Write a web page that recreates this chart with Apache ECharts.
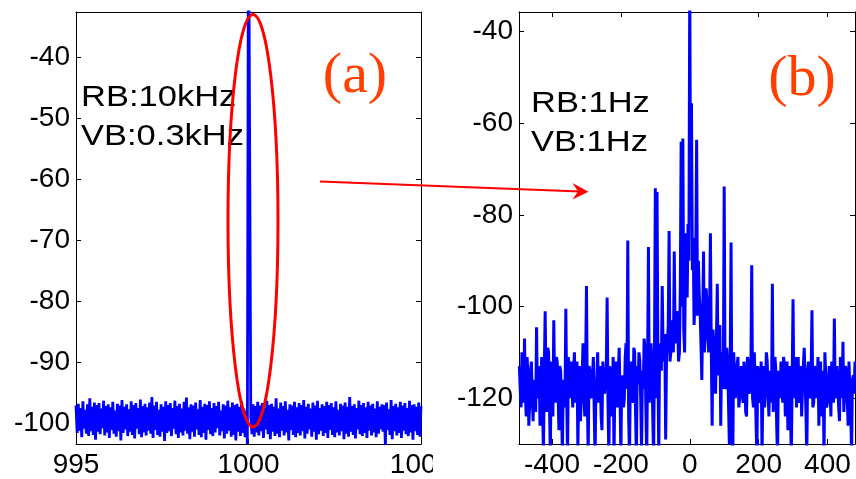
<!DOCTYPE html>
<html><head><meta charset="utf-8">
<script src="https://cdn.jsdelivr.net/npm/echarts@6/dist/echarts.min.js"></script>
<style>html,body{margin:0;padding:0;background:#fff}#c{width:856px;height:479px}</style>
</head><body><div id="c"></div>
<script>
// ---- data ----
const leftStart = 995, leftStep = 1 / 30;      // frequency grid, panel (a)
const leftLevels = [
 -97.1,-101.6,-96.8,-101.2,-97.5,-102.3,-96.4,-100.9,-97.8,-101.7,-96.9,-102.1,-95.9,-101.3,-97.3,-101.9,-96.6,-102.7,-97.0,-101.4,
 -96.7,-101.8,-97.6,-100.8,-96.3,-102.0,-97.2,-101.5,-96.9,-102.4,-97.4,-101.1,-96.5,-101.7,-97.9,-102.2,-96.8,-101.3,-97.1,-102.8,
 -96.2,-101.6,-97.3,-101.0,-96.9,-102.1,-97.7,-101.4,-96.4,-101.9,-97.0,-102.5,-96.7,-100.9,-97.5,-101.8,-96.1,-102.3,-97.2,-101.5,
 -96.8,-102.0,-97.4,-101.2,-96.6,-101.7,-95.7,-102.4,-97.1,-101.1,-96.5,-101.9,-97.8,-102.2,-96.9,-101.4,-97.3,-102.9,-96.4,-101.6,
 -97.0,-101.3,-96.7,-102.1,-97.5,-100.9,-96.3,-101.8,-97.2,-102.4,-96.8,-101.5,-97.6,-102.0,-96.5,-101.2,-95.8,-101.7,-97.4,-102.6,
 -96.9,-101.4,-97.1,-102.2,-96.6,-101.0,-97.7,-101.9,-96.2,-102.3,-97.3,-101.6,-96.8,-102.7,-97.0,-101.1,-96.4,-101.8,-97.5,-102.1,
 -96.7,-101.5,-97.2,-100.8,-96.5,-102.0,-97.9,-101.3,-96.9,-102.5,-97.1,-101.7,-96.3,-101.2,-97.4,-102.2,-96.6,-101.9,-97.0,-102.8,
 -96.8,-101.4,-97.3,-102.1,-96.4,-101.6,-97.6,-102.3,-98.0,-103.4,
 -10,-10,
 -99.0,-101.8,-96.9,-102.2,-97.2,-101.5,-96.5,-102.0,
 -97.1,-101.3,-96.7,-102.4,-97.5,-101.0,-96.3,-101.8,-97.0,-102.6,-96.8,-101.4,-97.3,-102.1,-95.9,-101.7,-97.6,-102.3,-96.6,-101.2,
 -97.2,-102.0,-96.4,-101.5,-97.8,-102.8,-96.9,-101.1,-97.1,-101.9,-96.5,-102.3,-97.4,-101.6,-96.7,-102.0,-97.0,-101.3,-96.2,-102.5,
 -97.3,-101.7,-96.8,-101.0,-97.6,-102.2,-96.6,-101.4,-97.1,-102.7,-96.3,-101.8,-97.5,-101.2,-96.9,-102.1,-97.2,-101.6,-96.5,-102.4,
 -97.0,-101.1,-96.7,-101.9,-97.4,-102.3,-96.4,-101.5,-97.8,-102.0,-96.8,-101.3,-97.1,-102.6,-96.6,-101.7,-97.3,-102.2,-95.7,-101.4,
 -97.2,-101.9,-96.9,-102.5,-97.5,-101.0,-96.3,-101.8,-97.0,-102.1,-96.7,-101.6,-97.4,-102.4,-96.5,-101.2,-97.1,-102.0,-96.8,-101.5,
 -97.6,-102.3,-96.4,-101.7,-97.3,-101.0,-96.9,-101.4,-97.0,-103.6,-96.6,-101.1,-97.7,-101.9,-96.2,-102.6,-97.2,-101.3,-96.8,-102.0,
 -97.4,-101.6,-96.5,-102.4,-97.1,-101.2,-96.7,-101.8,-97.5,-102.1,-96.3,-101.5,-97.0,-102.7,-96.9,-101.3,-97.3,-101.9,-96.6,-102.2,
 -97.2
];
const rightStart = -495, rightStep = 2.5;       // frequency offset grid, panel (b)
const rightLevels = [
 -113,-118,-122,-110,-117,-121,-107,-119,-124,-111,-115,-126,-121,-114,-112,-120,-125,-116,-118,-123,
 -104.5,-120,-119,-113,-126,-117,-111,-122,-132,-114,-101,-118,-123,-109,-110,-121,-133,-112,-116,-124,
 -103,-117,-121,-111,-112,-119,-127,-113,-114,-120,-133,-116,-118,-122,-100.5,-119,-133,-111,-115,-120,
 -112,-116,-122,-114,-110,-121,-117,-112,-131,-118,-113,-125,-120,-115,-108,-119,-124,-113,-95.5,-121,
 -132,-113,-114,-120,-119,-115,-111,-123,-133,-117,-116,-110,-121,-118,-113,-124,-127,-112,-115,-119,
 -119,-114,-98,-121,-133,-113,-116,-124,-120,-111,-133,-117,-112,-119,-122,-114,-109,-120,-133,-115,
 -115,-122,-120,-111,-108,-118,-85.6,-124,-133,-115,-112,-119,-121,-109,-110,-123,-133,-113,-117,-110,
 -112,-120,-132,-114,-118,-107,-109,-122,-133,-113,-87,-121,-118,-108,-112,-124,-133,-110,-74.2,-120,
 -75,-112,-133,-108,-110,-114,-95.5,-109,-112,-106,-129,-111,-108,-104,-83.5,-112,-110,-103,-106,-110,
 -88,-107,-108,-101,-104,-112,-110,-96,-64,-100,-63.3,-105,-110,-92,-84,-98,-82,-90,-30,-78,
 -55.6,-92,-85,-104,-99,-88,-63.6,-102,-90,-97,-101,-108,-116,-103,-88,-110,-104,-96,-99,-107,
 -110,-102,-84,-109,-126,-105,-108,-113,-119,-107,-95,-115,-112,-104,-126,-111,-110,-118,-73.8,-116,
 -118,-109,-112,-121,-130,-112,-86,-126,-133,-110,-114,-120,-118,-113,-111,-122,-120,-115,-113,-119,
 -121,-112,-115,-123,-124,-111,-112,-119,-118,-114,-91,-120,-122,-110,-116,-125,-133,-113,-115,-121,
 -120,-112,-133,-117,-113,-122,-118,-110,-112,-119,-124,-114,-115,-121,-95,-123,-120,-111,-114,-126,
 -133,-114,-116,-120,-112,-117,-121,-111,-113,-124,-118,-112,-127,-115,-113,-122,-133,-116,-98.4,-120,
 -117,-111,-122,-115,-111,-121,-119,-113,-124,-118,-113,-109,-116,-123,-133,-114,-112,-119,-120,-115,
 -100.8,-122,-121,-113,-114,-120,-118,-111,-126,-116,-112,-124,-119,-114,-133,-110,-115,-122,-121,-117,
 -113,-118,-124,-112,-116,-121,-102.6,-119,-120,-113,-113,-122,-125,-111,-117,-120,-107.7,-123,-119,-113,
 -114,-120,-126,-112,-118,-121,-133,-116,-115,-119,-112
];
const leftXTicks = [995, 1000, 1005];
const leftYTicks = [-100, -90, -80, -70, -60, -50, -40];
const rightXTicks = [-400, -200, 0, 200, 400];
const rightYTicks = [-120, -100, -80, -60, -40];
const notesA = ['RB:10kHz', 'VB:0.3kHz'];
const notesB = ['RB:1Hz', 'VB:1Hz'];
const panelTags = ['(a)', '(b)'];

// ---- chart ----
const FONT = 'Liberation Sans, Arial, sans-serif';
const chart = echarts.init(document.getElementById('c'));

function mkAxis(grid, position, min, max, ticks, labels) {
  const isX = position === 'bottom' || position === 'top';
  return {
    type: 'value', gridIndex: grid, position, min, max,
    axisLine: { show: true, onZero: false, lineStyle: { color: '#000', width: 1 } },
    axisTick: { show: true, inside: true, length: 5, customValues: ticks, lineStyle: { color: '#000', width: 1 } },
    axisLabel: {
      show: labels, customValues: ticks, color: '#000', fontFamily: FONT, fontSize: 28,
      margin: isX ? 7 : 6, formatter: v => String(v)
    },
    splitLine: { show: false }
  };
}

const leftData = leftLevels.map((v, i) => [leftStart + i * leftStep, v]);
const rightData = rightLevels.map((v, i) => [rightStart + i * rightStep, v]);

function noteText(lines, x, y0, gap) {
  return lines.map((t, k) => ({
    type: 'text', x, y: y0 + k * gap, scaleX: 1.15, z: 60,
    style: { text: t, fill: '#000', font: '30px ' + FONT, textAlign: 'left', textVerticalAlign: 'middle' }
  }));
}

chart.setOption({
  animation: false,
  backgroundColor: '#fff',
  grid: [
    { left: 76, top: 12, width: 345, height: 432, containLabel: false },
    { left: 519, top: 12, width: 336, height: 432, containLabel: false }
  ],
  xAxis: [
    mkAxis(0, 'bottom', 995, 1005, leftXTicks, true),
    mkAxis(0, 'top', 995, 1005, leftXTicks, false),
    mkAxis(1, 'bottom', -496, 480, rightXTicks, true),
    mkAxis(1, 'top', -496, 480, rightXTicks, false)
  ],
  yAxis: [
    mkAxis(0, 'left', -103.4, -32.6, leftYTicks, true),
    mkAxis(0, 'right', -103.4, -32.6, leftYTicks, false),
    mkAxis(1, 'left', -130, -35.7, rightYTicks, true),
    mkAxis(1, 'right', -130, -35.7, rightYTicks, false)
  ],
  series: [
    { type: 'line', xAxisIndex: 0, yAxisIndex: 0, data: leftData, showSymbol: false, clip: true,
      lineStyle: { color: '#0000ff', width: 2.8 } },
    { type: 'line', xAxisIndex: 2, yAxisIndex: 2, data: rightData, showSymbol: false, clip: true,
      lineStyle: { color: '#0000ff', width: 3 } }
  ],
  graphic: [
    // cover the clipped part of the "1005" label like the reference
    { type: 'rect', z: 100, shape: { x: 433, y: 447, width: 83, height: 32 }, style: { fill: '#fff' } },
    { type: 'ellipse', z: 70, shape: { cx: 253, cy: 220.7, rx: 25, ry: 206.3 },
      style: { fill: 'none', stroke: '#ff0000', lineWidth: 3 } },
    { type: 'line', z: 70, shape: { x1: 320, y1: 181.5, x2: 580, y2: 191.4 },
      style: { stroke: '#ff0000', lineWidth: 2 } },
    { type: 'polygon', z: 70, shape: { points: [[588.5, 191.8], [572.5, 183], [578, 191.5], [572.5, 199.5]] },
      style: { fill: '#ff0000' } },
    ...noteText(notesA, 81, 98, 38.5),
    ...noteText(notesB, 531, 104, 39),
    { type: 'text', x: 355, y: 77, z: 60,
      style: { text: panelTags[0], fill: '#ff4000', font: '58px Liberation Serif, Times New Roman, serif', textAlign: 'center', textVerticalAlign: 'middle' } },
    { type: 'text', x: 802, y: 80, z: 60,
      style: { text: panelTags[1], fill: '#ff4000', font: '58px Liberation Serif, Times New Roman, serif', textAlign: 'center', textVerticalAlign: 'middle' } }
  ]
});
</script>
</body></html>
